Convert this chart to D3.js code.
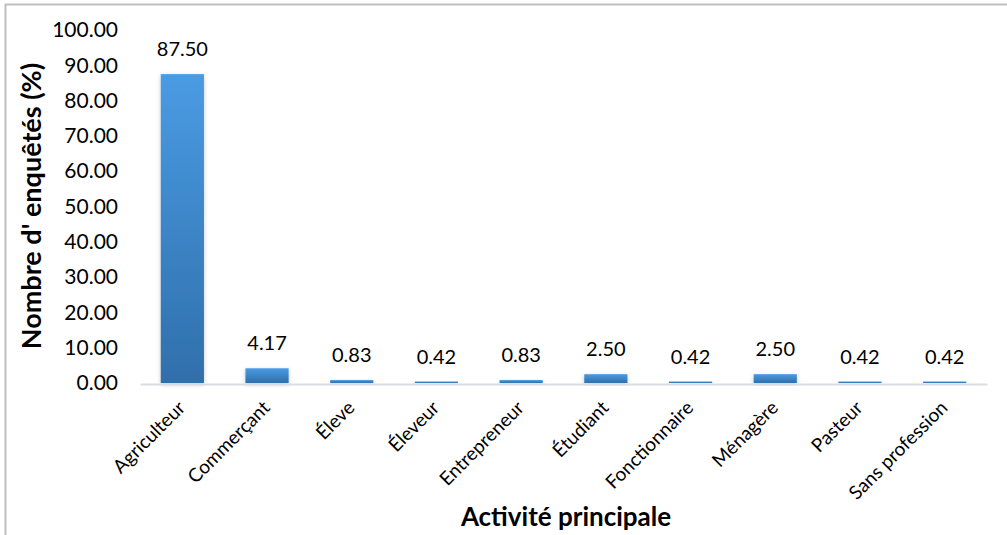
<!DOCTYPE html>
<html>
<head>
<meta charset="utf-8">
<script src="https://cdn.jsdelivr.net/npm/d3@7"></script>
<style>
  html, body { margin: 0; padding: 0; background: #fff; }
  svg { display: block; }
  text { font-family: Lato, "Open Sans", sans-serif; fill: #000; }
</style>
</head>
<body>
<svg id="chart" width="1007" height="535"></svg>
<script>
// Activité principale des enquêtés (%)
const categories = ["Agriculteur", "Commerçant", "Éleve", "Éleveur", "Entrepreneur",
                    "Étudiant", "Fonctionnaire", "Ménagère", "Pasteur", "Sans profession"];
const values = [87.50, 4.17, 0.83, 0.42, 0.83, 2.50, 0.42, 2.50, 0.42, 0.42];
const yTicks = [0, 10, 20, 30, 40, 50, 60, 70, 80, 90, 100];
const yTitle = "Nombre d' enquêtés (%)";
const xTitle = "Activité principale";

const svg = d3.select("#chart");
const W = 1007, H = 535;

svg.append("rect").attr("width", W).attr("height", H).attr("fill", "#fff");

// frame of the chart area
svg.append("path")
  .attr("d", `M5.5,${H} V4.5 H${W}`)
  .attr("fill", "none")
  .attr("stroke", "#bfbfbf")
  .attr("stroke-width", 2);

const x = d3.scaleBand()
  .domain(categories)
  .range([140, 987])
  .paddingInner(0.49)
  .paddingOuter(0.245);

const y = d3.scaleLinear().domain([0, 100]).range([383, 30]);

const defs = svg.append("defs");
const grad = defs.append("linearGradient")
  .attr("id", "barFill")
  .attr("x1", 0).attr("y1", 0).attr("x2", 0).attr("y2", 1);
grad.append("stop").attr("offset", "0%").attr("stop-color", "#4a9be3");
grad.append("stop").attr("offset", "100%").attr("stop-color", "#2f6fab");

const shadow = defs.append("filter").attr("id", "barShadow")
  .attr("x", "-30%").attr("y", "-30%").attr("width", "160%").attr("height", "160%");
shadow.append("feDropShadow")
  .attr("dx", 0).attr("dy", 1.5).attr("stdDeviation", 2)
  .attr("flood-color", "#000").attr("flood-opacity", 0.22);

// y axis labels (no axis line)
const yAxis = d3.axisLeft(y)
  .tickValues(yTicks)
  .tickFormat(d3.format(".2f"))
  .tickSize(0)
  .tickPadding(0);
const yg = svg.append("g").attr("transform", "translate(118,0)").call(yAxis);
yg.select(".domain").remove();
yg.selectAll("text")
  .attr("font-size", 21)
  .attr("font-family", "Lato, 'Open Sans', sans-serif")
  .attr("fill", "#000");

// bars
svg.append("g").selectAll("rect")
  .data(values)
  .join("rect")
  .attr("x", (d, i) => x(categories[i]))
  .attr("width", x.bandwidth())
  .attr("y", d => y(d))
  .attr("height", d => y(0) - y(d))
  .attr("fill", "url(#barFill)")
  .attr("filter", "url(#barShadow)");

// x axis line
const xAxis = d3.axisBottom(x).tickSize(0).tickPadding(0).tickFormat("");
const xg = svg.append("g").attr("transform", `translate(0,${y(0) + 1})`).call(xAxis);
xg.select(".domain")
  .attr("stroke", "#d9dde3")
  .attr("stroke-width", 2);

// value labels
svg.append("g").selectAll("text")
  .data(values)
  .join("text")
  .attr("x", (d, i) => x(categories[i]) + x.bandwidth() / 2)
  .attr("y", d => y(d) - 18)
  .attr("text-anchor", "middle")
  .attr("font-size", 20)
  .text(d => d3.format(".2f")(d));

// category labels, rotated
svg.append("g").selectAll("text")
  .data(categories)
  .join("text")
  .attr("transform", d => `translate(${x(d) + x.bandwidth() / 2 + 4},${409}) rotate(-45)`)
  .attr("text-anchor", "end")
  .attr("font-size", 19)
  .text(d => d);

// axis titles
svg.append("text")
  .attr("transform", "translate(41,206) rotate(-90)")
  .attr("text-anchor", "middle")
  .attr("font-size", 27)
  .attr("font-weight", "bold")
  .text(yTitle);

svg.append("text")
  .attr("x", 566)
  .attr("y", 526)
  .attr("text-anchor", "middle")
  .attr("font-size", 26)
  .attr("font-weight", "bold")
  .text(xTitle);
</script>
</body>
</html>
